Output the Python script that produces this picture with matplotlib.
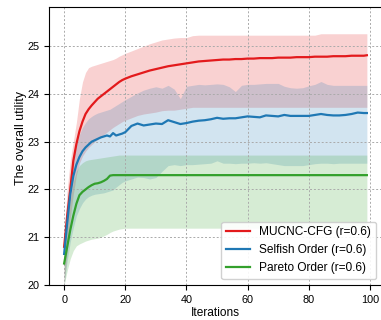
import numpy as np
import matplotlib
matplotlib.use("Agg")
import matplotlib.pyplot as plt

plt.rcParams['font.family'] = ['Liberation Sans', 'DejaVu Sans']

# iteration grid the values were read at
iters = list(range(0, 21)) + list(range(22, 99, 2)) + [99]

# MUCNC-CFG (r=0.6)
red_mean = [20.80, 21.45, 22.00, 22.60, 22.95, 23.22, 23.42, 23.58, 23.68, 23.76, 23.83,
            23.90, 23.95, 24.00, 24.05, 24.10, 24.15, 24.20, 24.25, 24.29, 24.32] + \
           [24.37, 24.41, 24.45, 24.49, 24.52, 24.55, 24.58, 24.60, 24.62, 24.64,
            24.66, 24.68, 24.69, 24.70, 24.71, 24.72, 24.72, 24.73, 24.73, 24.74,
            24.74, 24.75, 24.75, 24.75, 24.76, 24.76, 24.76, 24.77, 24.77, 24.77,
            24.78, 24.78, 24.78, 24.79, 24.79, 24.79, 24.80, 24.80, 24.80] + [24.81]
red_lo = [20.00, 20.70, 21.40, 21.90, 22.30, 22.55, 22.70, 22.80, 22.88, 22.94, 23.00,
          23.05, 23.10, 23.15, 23.20, 23.25, 23.30, 23.34, 23.38, 23.42, 23.45] + \
         [23.50, 23.55, 23.58, 23.60, 23.62, 23.65, 23.66, 23.66, 23.68, 23.70,
          23.72, 23.72, 23.72, 23.72, 23.72, 23.72, 23.72, 23.72, 23.72, 23.72,
          23.72, 23.72, 23.72, 23.72, 23.72, 23.72, 23.72, 23.72, 23.72, 23.72,
          23.72, 23.72, 23.72, 23.72, 23.72, 23.72, 23.72, 23.72, 23.72] + [23.72]
red_hi = [21.00, 22.00, 22.60, 23.00, 23.40, 23.90, 24.25, 24.45, 24.55, 24.58, 24.60,
          24.62, 24.64, 24.66, 24.68, 24.70, 24.72, 24.75, 24.79, 24.82, 24.85] + \
         [24.90, 24.95, 25.00, 25.05, 25.09, 25.13, 25.15, 25.17, 25.18, 25.18,
          25.22, 25.23, 25.23, 25.23, 25.23, 25.23, 25.23, 25.23, 25.23, 25.23,
          25.23, 25.23, 25.23, 25.23, 25.23, 25.23, 25.23, 25.23, 25.23, 25.23,
          25.23, 25.26, 25.26, 25.26, 25.26, 25.26, 25.26, 25.26, 25.26] + [25.26]

# Selfish Order (r=0.6)
blue_mean = [20.65, 21.30, 21.90, 22.28, 22.52, 22.68, 22.80, 22.88, 22.94, 23.00, 23.03,
             23.06, 23.09, 23.11, 23.13, 23.11, 23.18, 23.13, 23.15, 23.17, 23.20] + \
            [23.33, 23.38, 23.34, 23.36, 23.38, 23.37, 23.45, 23.41, 23.37, 23.39,
             23.42, 23.44, 23.45, 23.47, 23.50, 23.48, 23.49, 23.49, 23.51, 23.53,
             23.52, 23.51, 23.55, 23.54, 23.53, 23.56, 23.54, 23.54, 23.54, 23.54,
             23.56, 23.58, 23.56, 23.55, 23.55, 23.56, 23.58, 23.61, 23.60] + [23.60]
blue_lo = [20.00, 20.50, 20.90, 21.20, 21.45, 21.60, 21.72, 21.80, 21.85, 21.88, 21.90,
           21.91, 21.92, 21.93, 21.95, 21.97, 21.99, 22.05, 22.10, 22.15, 22.18] + \
          [22.22, 22.26, 22.25, 22.22, 22.25, 22.38, 22.50, 22.52, 22.50, 22.52,
           22.52, 22.53, 22.54, 22.55, 22.60, 22.55, 22.55, 22.54, 22.55, 22.55,
           22.56, 22.55, 22.56, 22.54, 22.52, 22.50, 22.50, 22.50, 22.50, 22.52,
           22.54, 22.55, 22.55, 22.54, 22.55, 22.55, 22.55, 22.55, 22.55] + [22.55]
blue_hi = [20.90, 21.70, 22.30, 22.70, 22.95, 23.15, 23.30, 23.40, 23.48, 23.53, 23.57,
           23.60, 23.62, 23.64, 23.66, 23.68, 23.72, 23.76, 23.80, 23.84, 23.88] + \
          [23.95, 24.02, 24.08, 24.12, 24.15, 24.12, 24.18, 24.10, 23.90, 24.16,
           24.18, 24.20, 24.19, 24.20, 24.21, 24.20, 24.15, 24.05, 24.18, 24.20,
           24.20, 24.21, 24.22, 24.22, 24.22, 24.16, 24.13, 24.12, 24.13, 24.17,
           24.20, 24.26, 24.20, 24.18, 24.18, 24.18, 24.18, 24.18, 24.18] + [24.18]

# Pareto Order (r=0.6)
green_mean = [20.45, 20.80, 21.15, 21.45, 21.70, 21.88, 21.95, 22.00, 22.05, 22.09, 22.12,
              22.13, 22.15, 22.18, 22.22, 22.29, 22.30, 22.30, 22.30, 22.30, 22.30] + \
             [22.30, 22.30, 22.30, 22.30, 22.30, 22.30, 22.30, 22.30, 22.30, 22.30,
              22.30, 22.30, 22.30, 22.30, 22.30, 22.30, 22.30, 22.30, 22.30, 22.30,
              22.30, 22.30, 22.30, 22.30, 22.30, 22.30, 22.30, 22.30, 22.30, 22.30,
              22.30, 22.30, 22.30, 22.30, 22.30, 22.30, 22.30, 22.30, 22.30] + [22.30]
green_lo = [20.00, 20.30, 20.55, 20.72, 20.82, 20.86, 20.89, 20.92, 20.94, 20.96, 20.97,
            20.98, 21.00, 21.03, 21.06, 21.10, 21.13, 21.15, 21.17, 21.18, 21.19] + \
           [21.19, 21.19, 21.19, 21.19, 21.19, 21.19, 21.19, 21.19, 21.19, 21.19,
            21.19, 21.19, 21.19, 21.19, 21.19, 21.19, 21.19, 21.19, 21.19, 21.19,
            21.19, 21.19, 21.19, 21.19, 21.19, 21.19, 21.19, 21.19, 21.19, 21.19,
            21.19, 21.19, 21.19, 21.19, 21.19, 21.19, 21.19, 21.19, 21.19] + [21.19]
green_hi = [20.65, 21.30, 21.80, 22.15, 22.38, 22.50, 22.56, 22.60, 22.62, 22.63, 22.64,
            22.65, 22.66, 22.67, 22.68, 22.69, 22.70, 22.71, 22.72, 22.72, 22.72] + \
           [22.72, 22.72, 22.72, 22.72, 22.72, 22.72, 22.72, 22.72, 22.72, 22.72,
            22.72, 22.72, 22.72, 22.72, 22.72, 22.72, 22.72, 22.72, 22.72, 22.72,
            22.72, 22.72, 22.72, 22.72, 22.72, 22.72, 22.72, 22.72, 22.72, 22.72,
            22.72, 22.72, 22.72, 22.72, 22.72, 22.72, 22.72, 22.72, 22.72] + [22.72]

series = [
    ('MUCNC-CFG (r=0.6)', '#e31a1c', red_mean, red_lo, red_hi),
    ('Selfish Order (r=0.6)', '#1f78b4', blue_mean, blue_lo, blue_hi),
    ('Pareto Order (r=0.6)', '#33a02c', green_mean, green_lo, green_hi),
]

fig = plt.figure(figsize=(3.81, 3.2), dpi=100)
ax = fig.add_axes([49 / 381, 35 / 320, 333 / 381, 278 / 320])

x = np.array(iters)
for label, color, mean, lo, hi in series:
    ax.fill_between(x, lo, hi, color=color, alpha=0.2, linewidth=0)
    ax.plot(x, mean, color=color, linewidth=1.6, label=label)

ax.set_xlim(-4.95, 103.95)
ax.set_ylim(20, 25.82)
ax.set_xticks([0, 20, 40, 60, 80, 100])
ax.set_yticks([20, 21, 22, 23, 24, 25])
ax.tick_params(labelsize=7.8, length=3.5, width=0.8)
ax.grid(True, linestyle=(0, (2, 2)), color='#aaaaaa', linewidth=0.7)

ax.set_xlabel('Iterations', fontsize=8.6, labelpad=2)
ax.set_ylabel('The overall utility', fontsize=8.9)
ax.yaxis.set_label_coords(-0.066, 0.529)
ax.legend(loc='lower right', fontsize=8.6, framealpha=0.9, borderaxespad=0.5)

fig.savefig('out.png', dpi=100)
